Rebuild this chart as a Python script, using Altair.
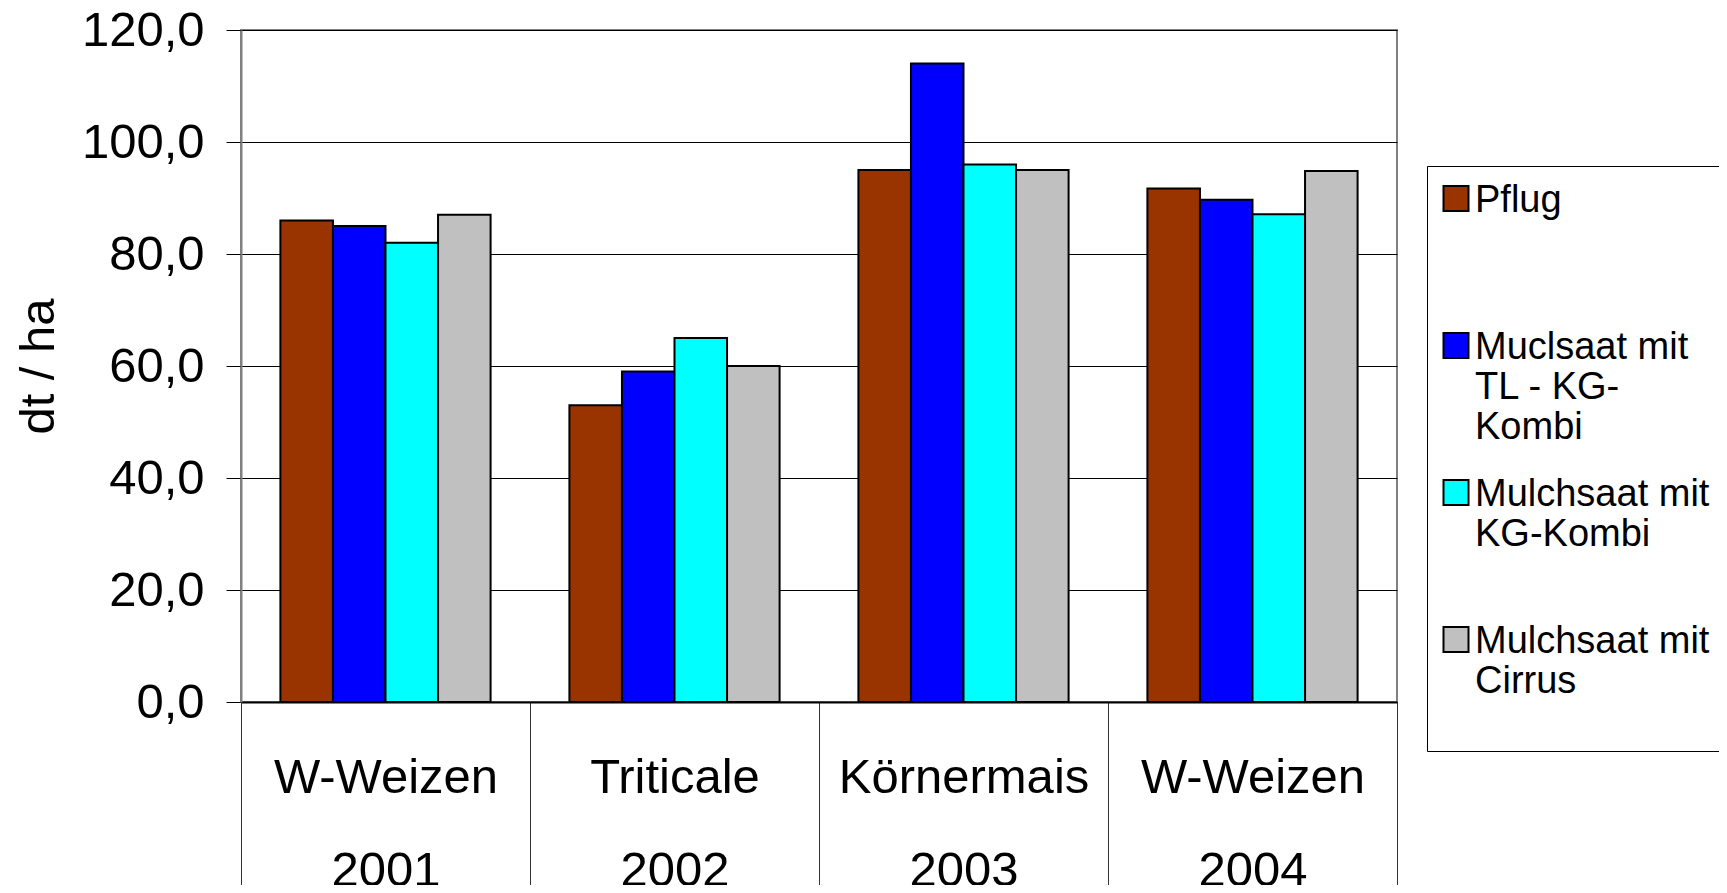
import altair as alt
import pandas as pd

# ---- data ----
crops = ["W-Weizen", "Triticale", "Körnermais", "W-Weizen"]
years = ["2001", "2002", "2003", "2004"]
series = ["Pflug", "Muclsaat mit|TL - KG-|Kombi", "Mulchsaat mit|KG-Kombi", "Mulchsaat mit|Cirrus"]
colors = ["#993300", "#0000FF", "#00FFFF", "#C0C0C0"]
pflug = [86.0, 53.0, 95.0, 91.7]
tl_kg_kombi = [85.0, 59.0, 114.0, 89.7]
kg_kombi = [82.0, 65.0, 96.0, 87.1]
cirrus = [87.0, 60.0, 95.0, 94.8]
y_ticks = [0, 20, 40, 60, 80, 100, 120]

cats = [f"{c}|{y}" for c, y in zip(crops, years)]
rows = []
for s, vals in zip(series, [pflug, tl_kg_kombi, kg_kombi, cirrus]):
    for cat, v in zip(cats, vals):
        rows.append({"cat": cat, "series": s, "value": v})
df = pd.DataFrame(rows)

FONT = "Liberation Sans"
W, H = 1156, 672
AX_FS = 49

legend = alt.Legend(
    title=" ", titleFontSize=2, titlePadding=15,
    orient="none", legendX=1186, legendY=136, direction="vertical",
    labelExpr="slice(split(datum.label + '| | ', '|'), 0, 3)",
    labelFont=FONT, labelFontSize=38, labelColor="black", labelBaseline="alphabetic",
    labelOffset=0, labelLimit=400,
    symbolType="M-1,-2.09L1,-2.09L1,-0.09L-1,-0.09Z", symbolSize=625,
    symbolStrokeColor="black", symbolStrokeWidth=2, symbolOpacity=1,
    rowPadding=28, padding=10, strokeColor="black", fillColor="white",
)

chart = alt.Chart(df).mark_bar(stroke="black", strokeWidth=2).encode(
    x=alt.X(
        "cat:N", sort=cats,
        scale=alt.Scale(paddingInner=0, paddingOuter=0),
        axis=alt.Axis(
            title=None,
            labelExpr="isValid(datum.value) ? split(datum.value, '|') : ''",
            labelAngle=0,
            labelFont=FONT, labelFontSize=AX_FS, labelColor="black",
            labelLineHeight=93, labelBaseline="top", labelPadding=-140,
            labelLimit=500, labelOverlap=False, labelFlush=False,
            tickBand="extent", tickSize=191, tickColor="#333333", tickWidth=1,
            domainColor="black", domainWidth=2, grid=False,
        ),
    ),
    xOffset=alt.XOffset("series:N", sort=series,
                        scale=alt.Scale(paddingInner=0, paddingOuter=0.75)),
    y=alt.Y(
        "value:Q",
        scale=alt.Scale(domain=[0, 120], nice=False),
        axis=alt.Axis(
            title="dt / ha", values=y_ticks,
            labelExpr="replace(format(datum.value, '.1f'), '.', ',')",
            labelFont=FONT, labelFontSize=AX_FS, labelColor="black", labelPadding=22,
            tickSize=15, tickColor="black", tickWidth=1,
            domainColor="#808080", domainWidth=2,
            grid=True, gridColor="black", gridWidth=1,
            titleFont=FONT, titleFontSize=AX_FS, titleFontWeight="normal",
            titleColor="black", titlePadding=18,
        ),
    ),
    color=alt.Color("series:N", sort=series,
                    scale=alt.Scale(domain=series, range=colors),
                    legend=legend),
).properties(
    width=W, height=H,
    autosize=alt.AutoSizeParams(type="none"),
    padding={"left": 233, "top": 22, "right": 322, "bottom": 183},
    background="white",
).configure_view(stroke="#808080", strokeWidth=2)

chart.save("out.html", embed_options={"renderer": "svg", "actions": False})
